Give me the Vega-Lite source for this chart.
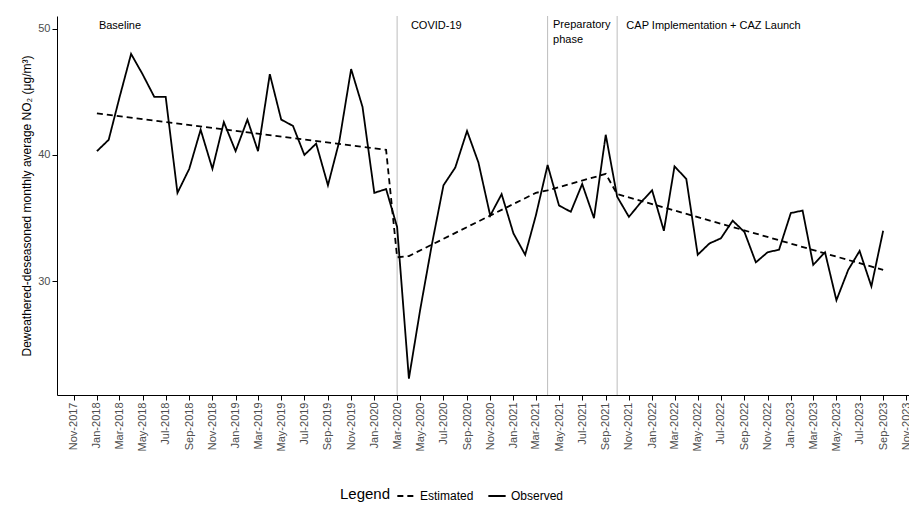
{
  "$schema": "https://vega.github.io/schema/vega-lite/v6.json",
  "width": 852,
  "height": 379,
  "autosize": "none",
  "padding": {"left": 57, "top": 16, "right": 0, "bottom": 115},
  "config": {
    "view": {"stroke": null},
    "font": "Liberation Sans",
    "axis": {"grid": false, "domainColor": "black", "tickColor": "black", "labelColor": "#4d4d4d", "labelFontSize": 11}
  },
  "datasets": {
    "obs": [
      {"date": "2018-01-01", "v": 40.3}, {"date": "2018-02-01", "v": 41.2}, {"date": "2018-03-01", "v": 44.5},
      {"date": "2018-04-01", "v": 48.0}, {"date": "2018-05-01", "v": 46.4}, {"date": "2018-06-01", "v": 44.6},
      {"date": "2018-07-01", "v": 44.6}, {"date": "2018-08-01", "v": 37.0}, {"date": "2018-09-01", "v": 38.9},
      {"date": "2018-10-01", "v": 42.0}, {"date": "2018-11-01", "v": 38.9}, {"date": "2018-12-01", "v": 42.6},
      {"date": "2019-01-01", "v": 40.3}, {"date": "2019-02-01", "v": 42.8}, {"date": "2019-03-01", "v": 40.3},
      {"date": "2019-04-01", "v": 46.4}, {"date": "2019-05-01", "v": 42.8}, {"date": "2019-06-01", "v": 42.3},
      {"date": "2019-07-01", "v": 40.0}, {"date": "2019-08-01", "v": 40.9}, {"date": "2019-09-01", "v": 37.6},
      {"date": "2019-10-01", "v": 41.1}, {"date": "2019-11-01", "v": 46.8}, {"date": "2019-12-01", "v": 43.8},
      {"date": "2020-01-01", "v": 37.0}, {"date": "2020-02-01", "v": 37.3}, {"date": "2020-03-01", "v": 34.3},
      {"date": "2020-04-01", "v": 22.3}, {"date": "2020-05-01", "v": 27.8}, {"date": "2020-06-01", "v": 33.0},
      {"date": "2020-07-01", "v": 37.6}, {"date": "2020-08-01", "v": 39.0}, {"date": "2020-09-01", "v": 41.9},
      {"date": "2020-10-01", "v": 39.4}, {"date": "2020-11-01", "v": 35.2}, {"date": "2020-12-01", "v": 36.9},
      {"date": "2021-01-01", "v": 33.8}, {"date": "2021-02-01", "v": 32.1}, {"date": "2021-03-01", "v": 35.2},
      {"date": "2021-04-01", "v": 39.2}, {"date": "2021-05-01", "v": 36.0}, {"date": "2021-06-01", "v": 35.5},
      {"date": "2021-07-01", "v": 37.7}, {"date": "2021-08-01", "v": 35.0}, {"date": "2021-09-01", "v": 41.6},
      {"date": "2021-10-01", "v": 36.7}, {"date": "2021-11-01", "v": 35.1}, {"date": "2021-12-01", "v": 36.2},
      {"date": "2022-01-01", "v": 37.2}, {"date": "2022-02-01", "v": 34.0}, {"date": "2022-03-01", "v": 39.1},
      {"date": "2022-04-01", "v": 38.1}, {"date": "2022-05-01", "v": 32.1}, {"date": "2022-06-01", "v": 33.0},
      {"date": "2022-07-01", "v": 33.4}, {"date": "2022-08-01", "v": 34.8}, {"date": "2022-09-01", "v": 33.9},
      {"date": "2022-10-01", "v": 31.5}, {"date": "2022-11-01", "v": 32.3}, {"date": "2022-12-01", "v": 32.5},
      {"date": "2023-01-01", "v": 35.4}, {"date": "2023-02-01", "v": 35.6}, {"date": "2023-03-01", "v": 31.3},
      {"date": "2023-04-01", "v": 32.3}, {"date": "2023-05-01", "v": 28.5}, {"date": "2023-06-01", "v": 30.9},
      {"date": "2023-07-01", "v": 32.4}, {"date": "2023-08-01", "v": 29.6}, {"date": "2023-09-01", "v": 34.0}
    ],
    "est": [
      {"date": "2018-01-01", "v": 43.3}, {"date": "2020-02-01", "v": 40.4}, {"date": "2020-03-01", "v": 31.9},
      {"date": "2020-04-01", "v": 32.0}, {"date": "2021-03-01", "v": 37.0}, {"date": "2021-04-01", "v": 37.2},
      {"date": "2021-09-01", "v": 38.5}, {"date": "2021-10-01", "v": 36.9}, {"date": "2023-09-01", "v": 30.9}
    ],
    "phases": [
      {"date": "2020-03-01"}, {"date": "2021-04-01"}, {"date": "2021-10-01"}
    ],
    "labels": [
      {"date": "2018-01-01", "y": 50.2, "t": ["Baseline"]},
      {"date": "2020-04-01", "y": 50.2, "t": ["COVID-19"]},
      {"date": "2021-04-10", "y": 50.3, "t": ["Preparatory", " phase"]},
      {"date": "2021-10-20", "y": 50.2, "t": ["CAP Implementation + CAZ Launch"]}
    ]
  },
  "layer": [
    {
      "data": {"name": "phases"},
      "mark": {"type": "rule", "color": "#bdbdbd", "strokeWidth": 1},
      "encoding": {"x": {"field": "date", "type": "temporal"}}
    },
    {
      "data": {"name": "labels"},
      "mark": {"type": "text", "align": "left", "baseline": "middle", "fontSize": 11, "dx": 2, "lineHeight": 15},
      "encoding": {
        "x": {"field": "date", "type": "temporal"},
        "y": {"field": "y", "type": "quantitative", "scale": {"domain": [21, 51], "nice": false, "zero": false}},
        "text": {"field": "t"}
      }
    },
    {
      "data": {"name": "est"},
      "transform": [{"calculate": "'Estimated'", "as": "series"}],
      "mark": {"type": "line", "color": "black", "strokeWidth": 1.8},
      "encoding": {
        "x": {"field": "date", "type": "temporal"},
        "y": {"field": "v", "type": "quantitative", "scale": {"domain": [21, 51], "nice": false, "zero": false}},
        "strokeDash": {"field": "series", "type": "nominal"}
      }
    },
    {
      "data": {"name": "obs"},
      "transform": [{"calculate": "'Observed'", "as": "series"}],
      "mark": {"type": "line", "color": "black", "strokeWidth": 1.8},
      "encoding": {
        "x": {
          "field": "date", "type": "temporal",
          "scale": {"domain": ["2017-09-18", "2023-11-08"]},
          "axis": {
            "title": null, "format": "%b-%Y", "labelAngle": -90, "labelOverlap": false, "labelBound": false,
            "tickCount": {"interval": "month", "step": 2}
          }
        },
        "y": {
          "field": "v", "type": "quantitative",
          "scale": {"domain": [21, 51], "nice": false, "zero": false},
          "axis": {"values": [30, 40, 50], "title": "Deweathered-deseasoned monthly average NO₂ (μg/m³)", "titleFontWeight": "normal", "titleFontSize": 12, "titleColor": "black"}
        },
        "strokeDash": {
          "field": "series", "type": "nominal",
          "scale": {"domain": ["Estimated", "Observed"], "range": [[6, 4], [1, 0]]},
          "legend": {"title": "Legend", "orient": "none", "legendX": 283, "legendY": 470, "direction": "horizontal", "titleOrient": "left", "titleFontSize": 15, "titleFontWeight": "normal", "labelFontSize": 12, "symbolType": "stroke", "symbolStrokeColor": "black", "symbolStrokeWidth": 2, "symbolSize": 300, "titleBaseline": "middle"}
        }
      }
    }
  ]
}
